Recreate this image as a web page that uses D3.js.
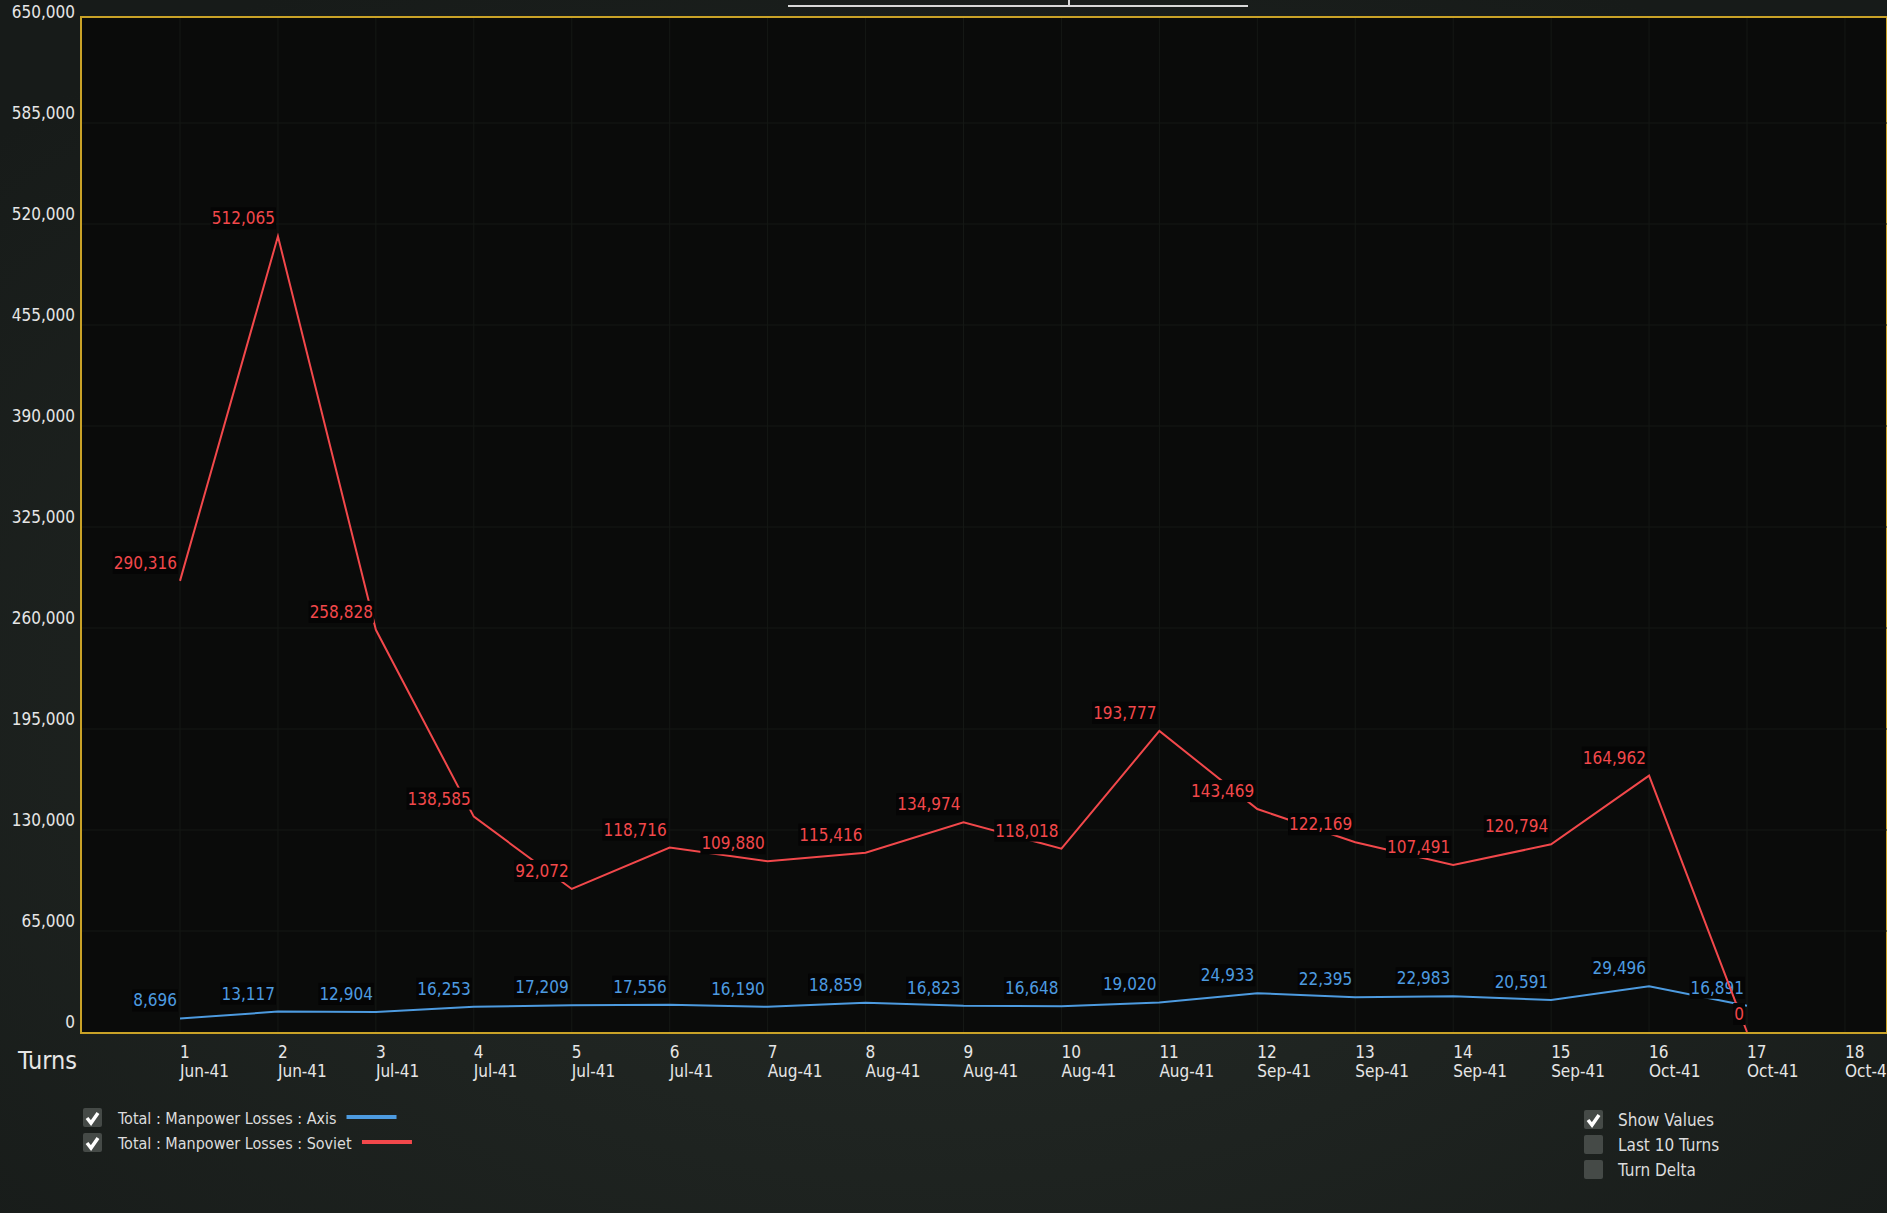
<!DOCTYPE html>
<html>
<head>
<meta charset="utf-8">
<script src="https://cdn.jsdelivr.net/npm/d3@7"></script>
<style>
  body { margin: 0; background: #1c211e; overflow: hidden; }
  svg { display: block; }
  text { font-family: "DejaVu Sans Condensed", "Liberation Sans Narrow", "Noto Sans", sans-serif; }
</style>
</head>
<body>
<div id="chart"></div>
<script>
const turns = [1, 2, 3, 4, 5, 6, 7, 8, 9, 10, 11, 12, 13, 14, 15, 16, 17, 18];
const dates = ['Jun-41', 'Jun-41', 'Jul-41', 'Jul-41', 'Jul-41', 'Jul-41', 'Aug-41', 'Aug-41', 'Aug-41',
    'Aug-41', 'Aug-41', 'Sep-41', 'Sep-41', 'Sep-41', 'Sep-41', 'Oct-41', 'Oct-41', 'Oct-41'];
const axis = [8696, 13117, 12904, 16253, 17209, 17556, 16190, 18859, 16823, 16648, 19020, 24933,
    22395, 22983, 20591, 29496, 16891];
const soviet = [290316, 512065, 258828, 138585, 92072, 118716, 109880, 115416, 134974, 118018, 193777,
    143469, 122169, 107491, 120794, 164962, 0];
const yTicks = [0, 65000, 130000, 195000, 260000, 325000, 390000, 455000, 520000, 585000, 650000];

const W = 1887, H = 1213;
const plot = { left: 81, top: 17, bottom: 1033, right: W };

const svg = d3.select('#chart').append('svg').attr('width', W).attr('height', H);

// background shading
const defs = svg.append('defs');
const grad = defs.append('radialGradient').attr('id', 'bg').attr('cx', '50%').attr('cy', '60%').attr('r', '70%');
grad.append('stop').attr('offset', '0%').attr('stop-color', '#262c28');
grad.append('stop').attr('offset', '100%').attr('stop-color', '#171b19');
svg.append('rect').attr('width', W).attr('height', H).attr('fill', 'url(#bg)');

// title stub
svg.append('line').attr('x1', 788).attr('x2', 1248).attr('y1', 6).attr('y2', 6)
    .attr('stroke', '#d8d8d8').attr('stroke-width', 2);
svg.append('line').attr('x1', 1069).attr('x2', 1069).attr('y1', 0).attr('y2', 6)
    .attr('stroke', '#d8d8d8').attr('stroke-width', 2);

const x = d3.scaleLinear().domain([1, 17]).range([180, 1747]);
const y = d3.scaleLinear().domain([0, 650000]).range([1032, 22]);

svg.append('rect')
    .attr('x', plot.left).attr('y', plot.top)
    .attr('width', plot.right - plot.left).attr('height', plot.bottom - plot.top)
    .attr('fill', '#0a0b0a').attr('stroke', '#c9a227').attr('stroke-width', 2);

// grid
svg.append('g').selectAll('line').data(yTicks.slice(1, -1)).join('line')
    .attr('x1', plot.left + 1).attr('x2', plot.right)
    .attr('y1', d => y(d)).attr('y2', d => y(d))
    .attr('stroke', '#151815').attr('stroke-width', 1);
svg.append('g').selectAll('line').data(turns).join('line')
    .attr('x1', d => x(d)).attr('x2', d => x(d))
    .attr('y1', plot.top + 1).attr('y2', plot.bottom - 1)
    .attr('stroke', '#151815').attr('stroke-width', 1);

// y labels
svg.append('g').selectAll('text').data(yTicks).join('text')
    .attr('x', 75).attr('y', d => y(d) - 4)
    .attr('text-anchor', 'end')
    .attr('fill', '#e6e6e6').attr('font-size', 17)
    .text(d => d3.format(',')(d));

// x labels
const xl = svg.append('g').selectAll('g').data(turns).join('g')
    .attr('transform', d => `translate(${x(d)},0)`);
xl.append('text').attr('y', 1058).attr('fill', '#e6e6e6').attr('font-size', 17).text(d => d);
xl.append('text').attr('y', 1077).attr('fill', '#e6e6e6').attr('font-size', 17).text((d, i) => dates[i]);
svg.append('text').attr('x', 18).attr('y', 1069).attr('fill', '#e6e6e6').attr('font-size', 25).text('Turns');

const line = d3.line().x((d, i) => x(i + 1)).y(d => y(d));

function series(data, color) {
    svg.append('path').datum(data).attr('d', line)
        .attr('fill', 'none').attr('stroke', color).attr('stroke-width', 2);
    const g = svg.append('g').selectAll('g').data(data).join('g');
    g.append('text')
        .attr('x', (d, i) => x(i + 1) - 3)
        .attr('y', d => y(d) - 12)
        .attr('text-anchor', 'end')
        .attr('fill', color).attr('font-size', 17)
        .text(d => d3.format(',')(d));
    g.each(function() {
        const t = d3.select(this).select('text');
        const b = t.node().getBBox();
        d3.select(this).insert('rect', 'text')
            .attr('x', b.x - 1).attr('y', b.y - 1)
            .attr('width', b.width + 2).attr('height', b.height + 2)
            .attr('fill', '#050505');
    });
}
series(axis, '#4d9be0');
series(soviet, '#f2484b');

// legend
function checkbox(cx, cy, checked) {
    svg.append('rect').attr('x', cx).attr('y', cy - 10).attr('width', 19).attr('height', 19)
        .attr('rx', 2).attr('fill', '#454a47');
    if (checked) {
        svg.append('path').attr('d', `M${cx + 4},${cy} L${cx + 8},${cy + 5} L${cx + 15},${cy - 5}`)
            .attr('fill', 'none').attr('stroke', '#fff').attr('stroke-width', 3.5);
    }
}
const legendLabels = ['Total : Manpower Losses : Axis', 'Total : Manpower Losses : Soviet'];
const legendColors = ['#4d9be0', '#f2484b'];
legendLabels.forEach((label, i) => {
    const cy = 1118 + i * 25;
    checkbox(83, cy, true);
    const t = svg.append('text').attr('x', 118).attr('y', cy + 6).attr('fill', '#dcdcdc')
        .attr('font-size', 16).text(label);
    const end = t.node().getBBox().x + t.node().getBBox().width;
    svg.append('line').attr('x1', end + 10).attr('x2', end + 60).attr('y1', cy - 1).attr('y2', cy - 1)
        .attr('stroke', legendColors[i]).attr('stroke-width', 4);
});
const opts = [['Show Values', true], ['Last 10 Turns', false], ['Turn Delta', false]];
opts.forEach((o, i) => {
    const cy = 1120 + i * 25;
    checkbox(1584, cy, o[1]);
    svg.append('text').attr('x', 1618).attr('y', cy + 6).attr('fill', '#dcdcdc').attr('font-size', 17).text(o[0]);
});
</script>
</body>
</html>
